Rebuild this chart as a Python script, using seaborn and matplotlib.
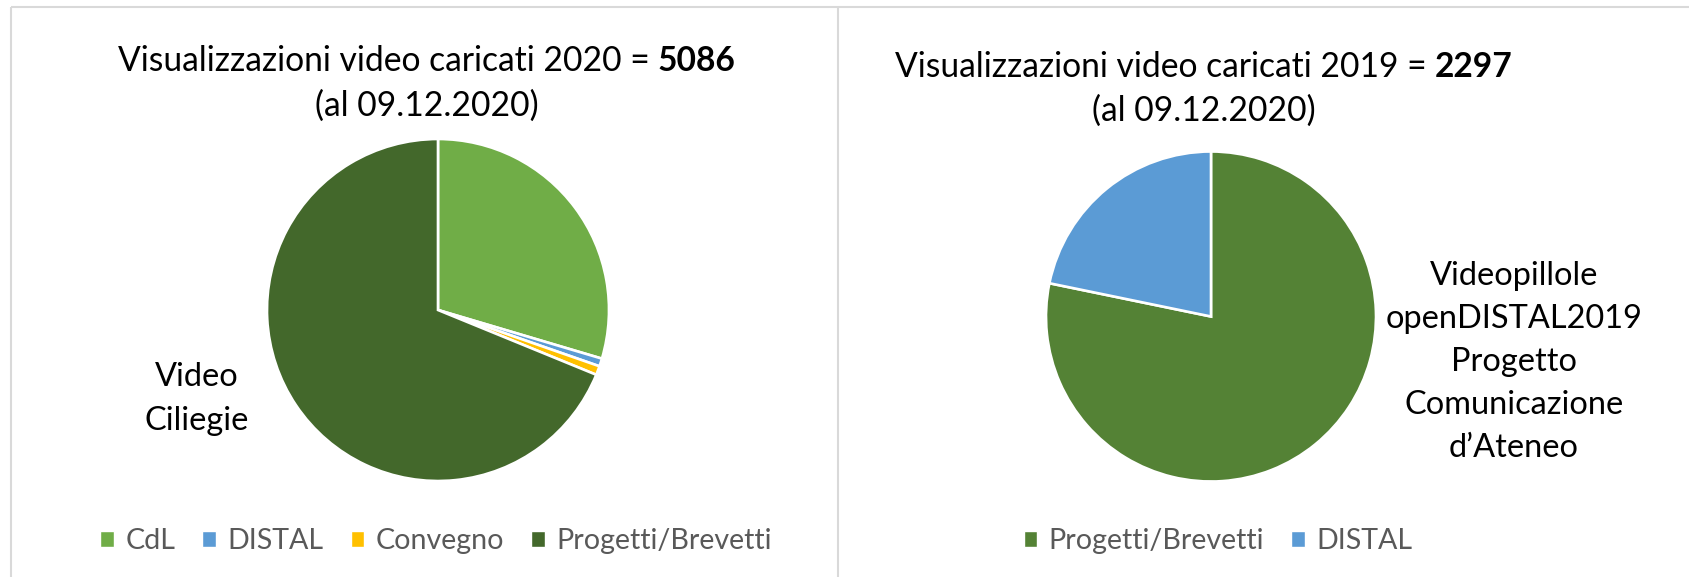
import matplotlib
matplotlib.use("Agg")
import matplotlib.pyplot as plt
import seaborn as sns
from matplotlib.patches import Patch

sns.set_theme(style="white")
plt.rcParams['font.family'] = ['Lato', 'DejaVu Sans']

# ---- data -------------------------------------------------------------
cats_2020 = ["CdL", "DISTAL", "Convegno", "Progetti/Brevetti"]
views_2020 = [1505, 38, 43, 3500]
colors_2020 = ["#70AD47", "#5B9BD5", "#FFC000", "#43682B"]
total_2020 = 5086
label_2020 = "Video\nCiliegie"

cats_2019 = ["Progetti/Brevetti", "DISTAL"]
views_2019 = [1797, 500]
colors_2019 = ["#548235", "#5B9BD5"]
total_2019 = 2297
label_2019 = "Videopillole\nopenDISTAL2019\nProgetto\nComunicazione\nd\u2019Ateneo"

date_note = "(al 09.12.2020)"

# ---- canvas in pixel units ---------------------------------------------
W, H = 1690, 577
fig = plt.figure(figsize=(W / 100, H / 100), dpi=100)
ax = fig.add_axes([0, 0, 1, 1])


def Y(y_img):
    return H - y_img


TITLE_PT = 24.2
LABEL_PT = 23.4
LEGEND_PT = 20.6
GRAY = "#595959"
BORDER = "#D9D9D9"

wedge_style = dict(edgecolor="white", linewidth=1.9)

ax.pie(views_2020, colors=colors_2020, startangle=90, counterclock=False,
       center=(438, Y(310)), radius=171, wedgeprops=wedge_style, frame=True)
ax.pie(views_2019, colors=colors_2019, startangle=90, counterclock=False,
       center=(1211, Y(316.5)), radius=165, wedgeprops=wedge_style, frame=True)

ax.set_xlim(0, W)
ax.set_ylim(0, H)
ax.set_aspect("auto")
ax.axis("off")

# chart area outlines
ax.plot([11, W], [Y(6.5), Y(6.5)], color=BORDER, lw=1.5, solid_capstyle="butt")
ax.plot([11, 11], [Y(6.5), 0], color=BORDER, lw=1.5, solid_capstyle="butt")
ax.plot([838, 838], [Y(6.5), 0], color=BORDER, lw=1.5, solid_capstyle="butt")


def mixed_title(xc, y, normal, bold):
    """Centre a line made of a regular part followed by a bold number."""
    r = fig.canvas.get_renderer()
    t1 = ax.text(0, y, normal, fontsize=TITLE_PT, va="baseline", ha="left", color="black")
    t2 = ax.text(0, y, bold, fontsize=TITLE_PT, va="baseline", ha="left",
                 fontweight="bold", color="black")
    w1 = t1.get_window_extent(r).width
    w2 = t2.get_window_extent(r).width
    gap = 0.23 * TITLE_PT * 100 / 72
    x0 = xc - (w1 + gap + w2) / 2
    t1.set_x(x0)
    t2.set_x(x0 + w1 + gap)


mixed_title(427, Y(71), "Visualizzazioni video caricati 2020 =", f"{total_2020}")
ax.text(427, Y(116), date_note, fontsize=TITLE_PT, ha="center", va="baseline", color="black")

mixed_title(1204, Y(77), "Visualizzazioni video caricati 2019 =", f"{total_2019}")
ax.text(1204, Y(121), date_note, fontsize=TITLE_PT, ha="center", va="baseline", color="black")

# slice labels
ax.text(197, Y(399), label_2020, fontsize=LABEL_PT, ha="center", va="center",
        linespacing=1.55, color="black")
ax.text(1514, Y(362), label_2019, fontsize=LABEL_PT, ha="center", va="center",
        linespacing=1.55, color="black")

# legends
leg_kw = dict(loc="center", bbox_transform=ax.transData, frameon=False,
              fontsize=LEGEND_PT, labelcolor=GRAY, handlelength=0.47,
              handleheight=0.47, handletextpad=0.4, columnspacing=0.95,
              borderpad=0, borderaxespad=0)
leg1 = ax.legend(handles=[Patch(facecolor=c, label=l) for c, l in zip(colors_2020, cats_2020)],
                 ncol=len(cats_2020), bbox_to_anchor=(436, Y(541)), **leg_kw)
ax.add_artist(leg1)
ax.legend(handles=[Patch(facecolor=c, label=l) for c, l in zip(colors_2019, cats_2019)],
          ncol=len(cats_2019), bbox_to_anchor=(1218, Y(541)), **leg_kw)

fig.savefig("out.png", dpi=100, facecolor="white")
